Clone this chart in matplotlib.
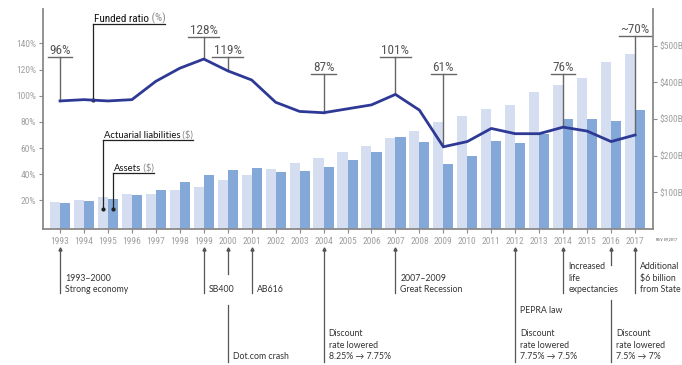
import numpy as np
import matplotlib
matplotlib.use("Agg")
import matplotlib.pyplot as plt
from matplotlib import font_manager
from matplotlib.font_manager import FontProperties
from matplotlib.transforms import blended_transform_factory, Affine2D, offset_copy

# CalPERS-style funding history, fiscal years
years = np.arange(1993, 2018)
liabilities = [74, 80, 87, 95, 95, 106, 114, 134, 147, 163, 180, 193, 210,
               226, 248, 267, 292, 308, 327, 338, 373, 392, 411, 455, 477]   # $B
assets = [71, 76, 82, 93, 106, 128, 147, 161, 166, 155, 158, 169, 188,
          210, 251, 237, 177, 199, 240, 234, 259, 300, 300, 294, 324]       # $B
funded_ratio = [96, 97, 96, 97, 111, 121, 128, 119, 112, 95, 88, 87, 90,
                93, 101, 89, 61, 65, 75, 71, 71, 76, 73, 65, 70]            # %

ratio_years = [1993, 1999, 2000, 2004, 2007, 2009, 2014, 2017]
ratio_texts = ["96%", "128%", "119%", "87%", "101%", "61%", "76%", "~70%"]

note_years = [1993, 1999, 2000, 2001, 2004, 2007, 2012, 2012, 2014, 2016, 2017]
note_texts = ["1993–2000\nStrong economy", "SB400", "Dot.com crash", "AB616",
              "Discount\nrate lowered\n8.25% → 7.75%", "2007–2009\nGreat Recession",
              "PEPRA law", "Discount\nrate lowered\n7.75% → 7.5%",
              "Increased\nlife\nexpectancies", "Discount\nrate lowered\n7.5% → 7%",
              "Additional\n$6 billion\nfrom State"]

LIGHT = "#d4def0"
DARK = "#84a9d9"
NAVY = "#2e3996"
AXIS = "#8a8a8a"
TICK_TXT = "#a0a0a0"
INK = "#333333"


def narrow_font():
    """Pick a condensed face if one is installed, else a plain narrow-ish sans."""
    for fam in ["Liberation Sans Narrow", "Roboto Condensed", "Open Sans Condensed",
                "Noto Sans Condensed", "DejaVu Sans Condensed"]:
        try:
            font_manager.findfont(FontProperties(family=fam), fallback_to_default=False)
            return dict(family=[fam, "DejaVu Sans"]), True
        except ValueError:
            pass
    for fam in ["Noto Sans", "Open Sans", "Roboto", "DejaVu Sans"]:
        path = font_manager.findfont(FontProperties(family=fam, stretch="condensed"))
        name = path.lower()
        if "condensed" in name or "narrow" in name or "wdth" in name:
            return dict(family=[fam, "DejaVu Sans"], stretch="condensed"), True
    return dict(family=["Roboto", "DejaVu Sans"]), False


NARROW, IS_NARROW = narrow_font()
BODY = dict(family=["Lato", "DejaVu Sans"])
shrink = 1.0 if IS_NARROW else 0.85

W, H = 682, 365
fig = plt.figure(figsize=(W / 100, H / 100), dpi=100)
ax = fig.add_axes([43 / W, 1 - 229 / H, (653 - 43) / W, (229 - 9) / H])
ax2 = ax.twinx()

# bars on the dollar axis (right), funded ratio on the percent axis (left)
bw = 0.42
ax.bar(years - bw / 2, liabilities, bw, color=LIGHT, zorder=2)
ax.bar(years + bw / 2, assets, bw, color=DARK, zorder=2)
ax.set_xlim(1992.29, 2017.75)
ax.set_ylim(0, 600)
ax2.set_ylim(-1.76, 166.2)
ax2.plot(years, funded_ratio, color=NAVY, lw=2.0, solid_joinstyle="round", zorder=5)

ax.yaxis.tick_right()
ax.set_yticks([100, 200, 300, 400, 500])
ax.set_yticklabels(["$100B", "$200B", "$300B", "$400B", "$500B"])
ax2.yaxis.tick_left()
ax2.set_yticks([20, 40, 60, 80, 100, 120, 140])
ax2.set_yticklabels([f"{v}%" for v in range(20, 141, 20)])
ax.set_xticks(years)
ax.set_xticklabels([str(y) for y in years])

for a in (ax, ax2):
    a.tick_params(length=3, width=0.8, color=AXIS, labelcolor=TICK_TXT)
    for lab in a.get_xticklabels() + a.get_yticklabels():
        lab.set_fontproperties(FontProperties(size=6.8 * shrink, **NARROW))
    for s in a.spines.values():
        s.set_visible(False)
ax.tick_params(axis="x", pad=3)
ax.tick_params(axis="y", pad=1.5)
ax2.tick_params(axis="y", pad=2)
for side in ("left", "right", "bottom"):
    ax.spines[side].set_visible(True)
    ax.spines[side].set_color(AXIS)
    ax.spines[side].set_linewidth(1.3)

fig.text(656 / W, 1 - 239 / H, "REV 09,2017", fontsize=3.0, color="#555555",
         va="center", **NARROW)

# x in years, y in pixels from the top of the image
T = blended_transform_factory(ax.transData, Affine2D().scale(1, -1).translate(0, H))
renderer = fig.canvas.get_renderer()
px_per_year = (653 - 43) / (2017.75 - 1992.29)


def ratio_px(x):
    v = np.interp(x, years, funded_ratio)
    return H - ax2.transData.transform((x, v))[1]


# funded-ratio callouts
rule_px = [57, 37, 57, 74, 57, 74, 74, 36]
for yr, txt, ry in zip(ratio_years, ratio_texts, rule_px):
    t = ax2.text(yr, ry - 3, txt, transform=T, ha="center", va="baseline",
                 fontsize=9.5 * shrink, color="#555555", **NARROW)
    half = (t.get_window_extent(renderer).width / 2 + 1.5) / px_per_year
    ax2.plot([yr - half, yr + half], [ry, ry], transform=T, color="#666666",
             lw=1.0, clip_on=False)
    ax2.plot([yr, yr], [ry, ratio_px(yr)], transform=T, color="#666666",
             lw=1.0, clip_on=False)


def series_label(x, top, bottom, main, unit, size, font):
    t = ax2.text(x + 1 / px_per_year, top - 2, main, transform=T, ha="left",
                 va="baseline", fontsize=size, color="#111111", **font)
    u = ax2.annotate(unit, xy=(1, 0), xycoords=t, va="bottom", ha="left",
                     fontsize=size, color="#888888", **font)
    fig.canvas.draw()
    right = u.get_window_extent(renderer).x1
    x1 = ax.transData.inverted().transform((right, 0))[0]
    ax2.plot([x, x1], [top, top], transform=T, color="#222222", lw=0.9, clip_on=False)
    ax2.plot([x, x], [top, bottom], transform=T, color="#222222", lw=0.9, clip_on=False)
    ax2.plot([x], [bottom], transform=T, marker="o", ms=2, color="#222222", clip_on=False)


fx = 1993 + (92.7 - 60) / 23.96
series_label(fx, 24, ratio_px(fx), "Funded ratio", " (%)", 8 * shrink, NARROW)
series_label(1995 - bw / 2, 140, 209, "Actuarial liabilities", " ($)", 6.8, BODY)
series_label(1995 + bw / 2, 172.7, 209, "Assets", " ($)", 6.8, BODY)

# event stems under the year axis
stem_years = [1993, 1999, 2000, 2001, 2004, 2007, 2012, 2014, 2016, 2017]
stem_spans = [[(248, 293)], [(248, 293)], [(248, 274), (305, 362)], [(248, 293)],
              [(248, 362)], [(248, 293)], [(248, 362)], [(248, 293)],
              [(248, 265), (300, 362)], [(248, 293)]]
for yr, spans in zip(stem_years, stem_spans):
    for top, bottom in spans:
        ax.plot([yr, yr], [top, bottom], transform=T, color="#555555", lw=0.9,
                clip_on=False)
    ax.plot([yr], [249], transform=T, marker="^", ms=2.2, color="#555555",
            clip_on=False)

note_bottom = [294, 294, 361, 294, 361, 294, 315, 361, 294, 361, 294]
Tn = offset_copy(T, fig=fig, x=5, y=0, units="dots")
for yr, txt, b in zip(note_years, note_texts, note_bottom):
    ax.text(yr, b, txt, transform=Tn, ha="left", va="bottom", fontsize=6.3,
            color=INK, linespacing=1.35, **BODY)

fig.savefig("out.png", dpi=100)
